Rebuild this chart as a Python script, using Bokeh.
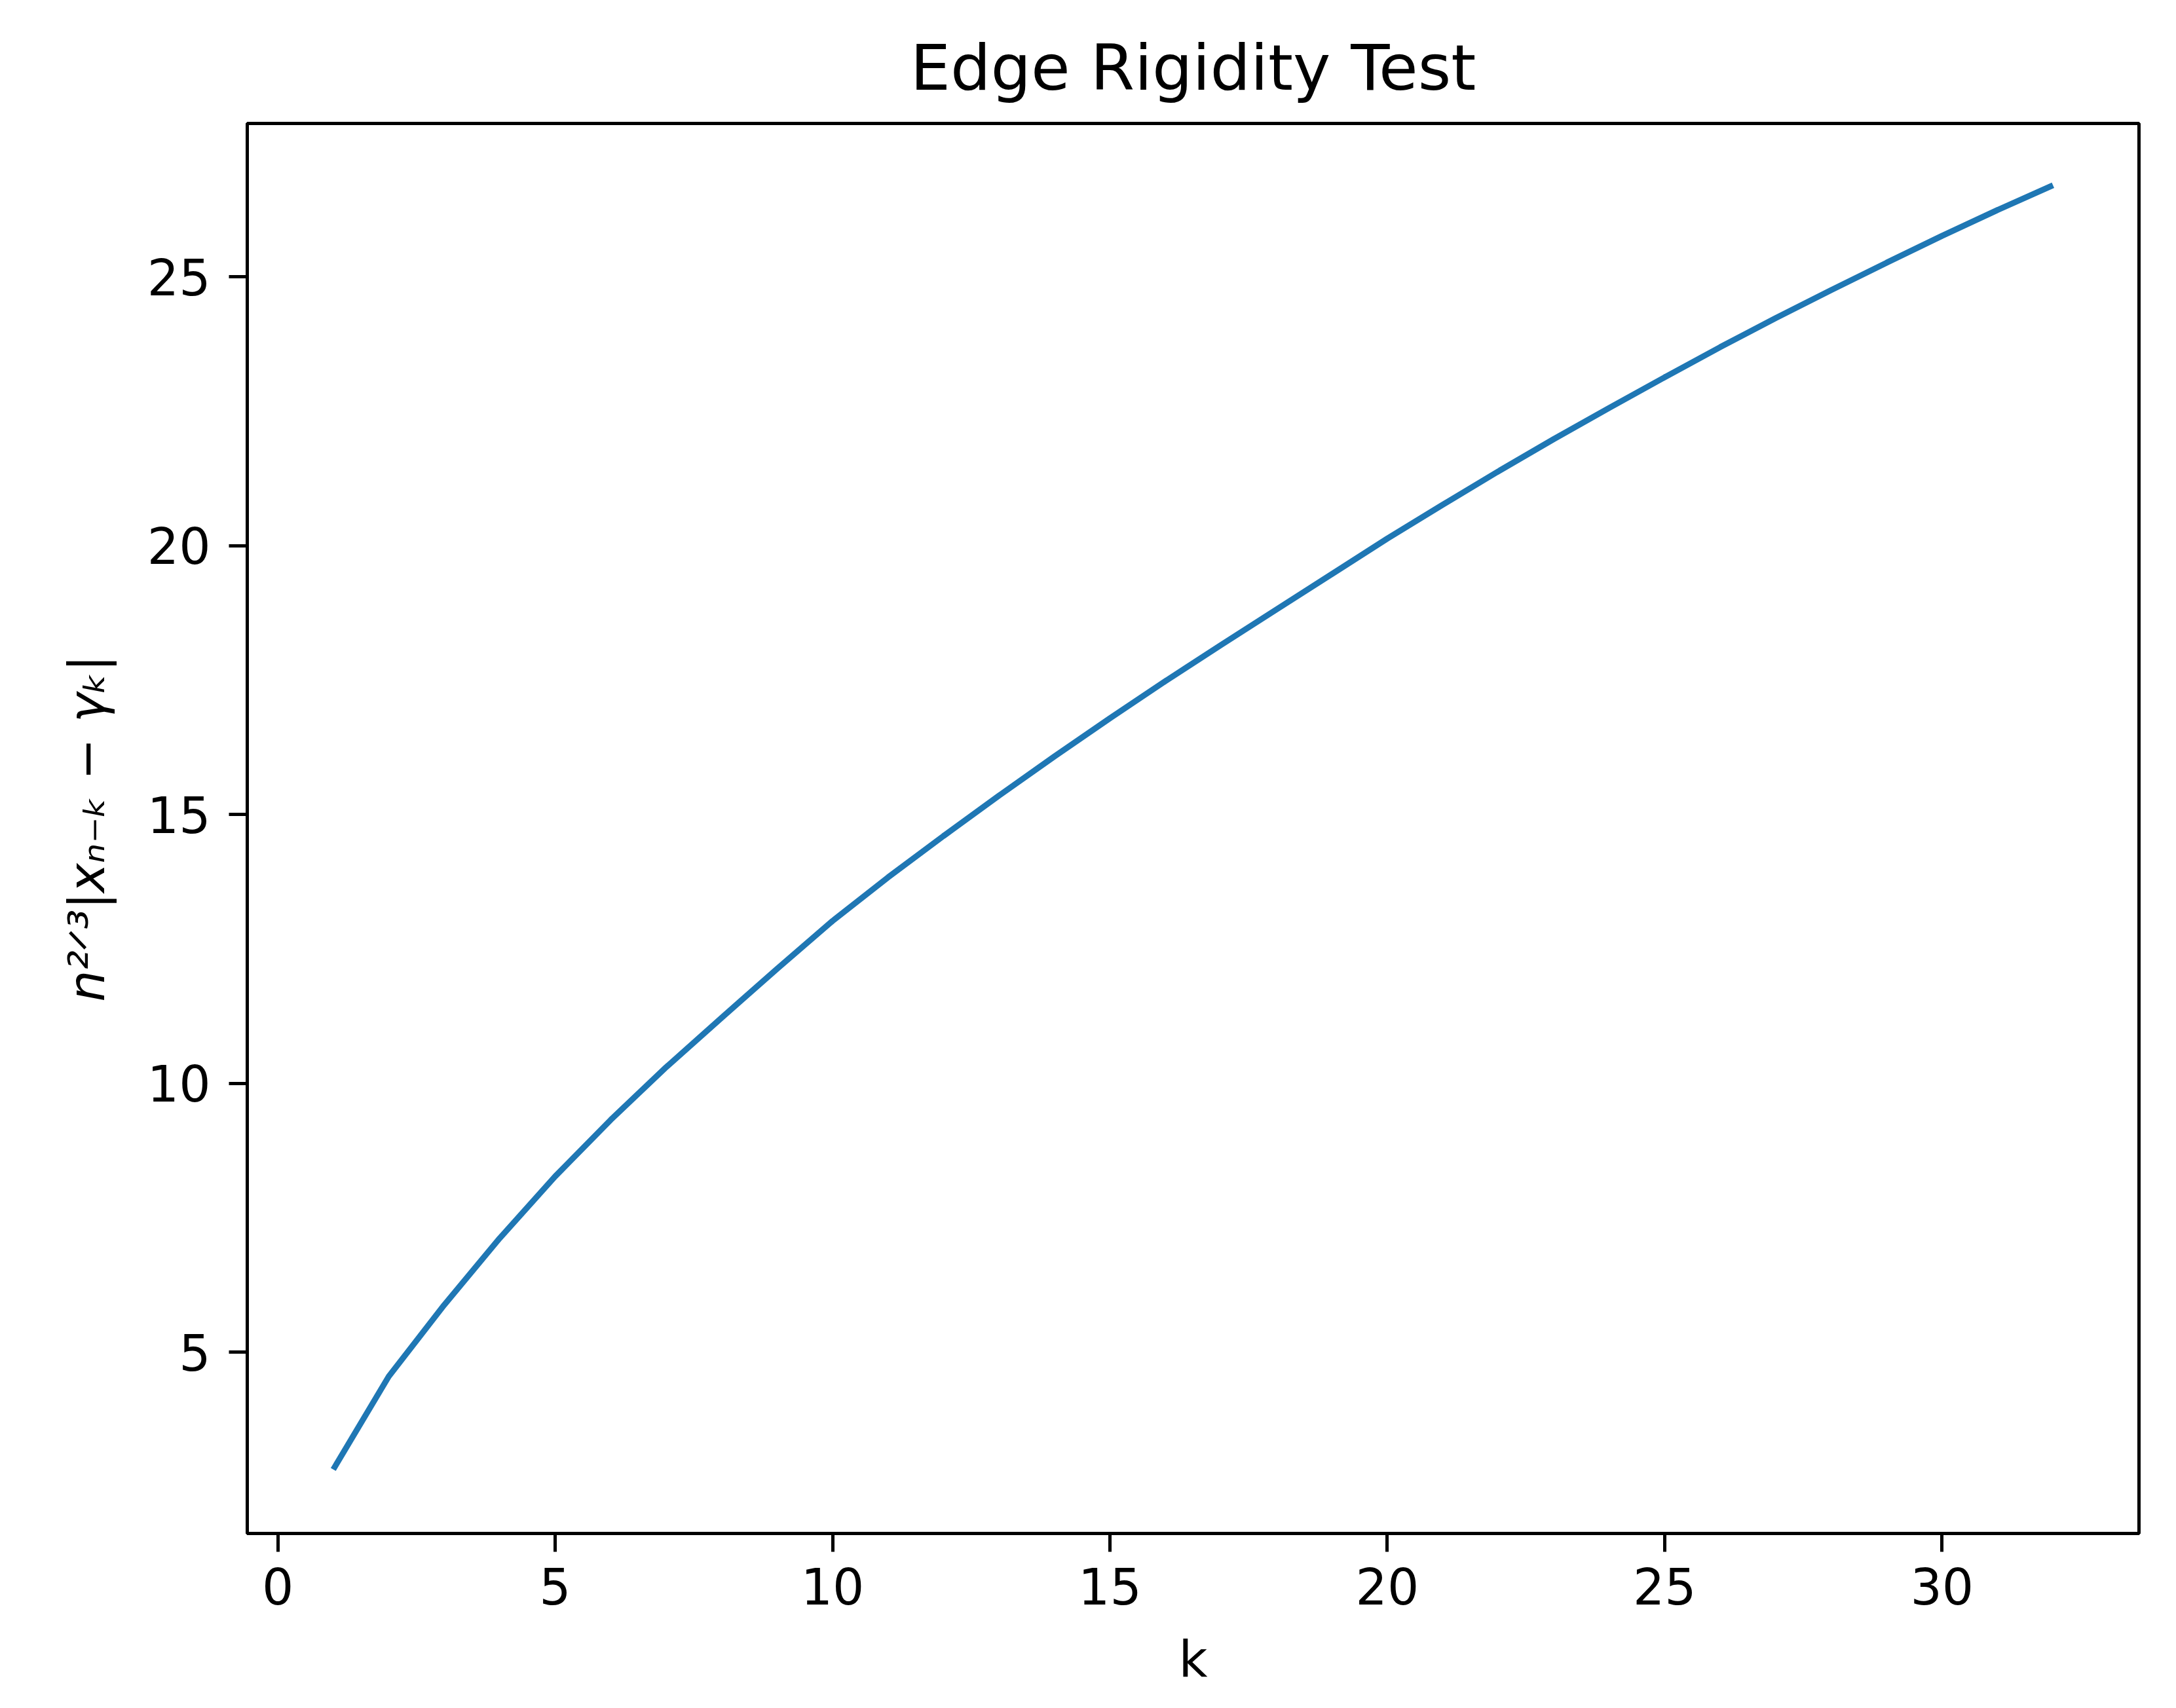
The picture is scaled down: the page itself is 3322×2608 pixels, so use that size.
from bokeh.plotting import figure
from bokeh.models import Range1d, FixedTicker
from bokeh.embed import file_html
from bokeh.resources import INLINE

# data
k_values = list(range(1, 33))
rigidity = [2.82, 4.55, 5.88, 7.12, 8.27, 9.32, 10.30, 11.22, 12.13, 13.02,
            13.83, 14.60, 15.35, 16.08, 16.79, 17.48, 18.15, 18.81, 19.47, 20.13,
            20.76, 21.38, 21.98, 22.56, 23.13, 23.69, 24.23, 24.75, 25.26, 25.76,
            26.24, 26.70]
x_ticks = [0, 5, 10, 15, 20, 25, 30]
y_ticks = [5, 10, 15, 20, 25]

title_text = "Edge Rigidity Test"
x_label = "k"
y_label = "n²ᐟ³|xₙ₋ₖ − γₖ|"

FONT = "DejaVu Sans"

p = figure(width=3306, height=2592,
           x_range=Range1d(-0.55, 33.55), y_range=Range1d(1.63, 27.85),
           output_backend="svg", toolbar_location=None, title=title_text)

p.min_border_left = 377
p.min_border_right = 41
p.min_border_top = 188
p.min_border_bottom = 251

p.background_fill_color = "white"
p.border_fill_color = "white"
p.outline_line_color = "black"
p.outline_line_width = 5

p.title.align = "center"
p.title.text_font = FONT
p.title.text_font_size = "97px"
p.title.text_font_style = "normal"
p.title.text_color = "black"
p.title.standoff = 57

p.xgrid.visible = False
p.ygrid.visible = False

for ax in (p.xaxis[0], p.yaxis[0]):
    ax.axis_line_color = "black"
    ax.axis_line_width = 5
    ax.major_tick_line_color = "black"
    ax.major_tick_line_width = 5
    ax.major_tick_out = 28
    ax.major_tick_in = 0
    ax.minor_tick_line_color = None
    ax.major_label_text_font = FONT
    ax.major_label_text_font_size = "76px"
    ax.major_label_text_color = "black"
    ax.axis_label_text_font = FONT
    ax.axis_label_text_font_size = "76px"
    ax.axis_label_text_color = "black"

p.xaxis[0].ticker = FixedTicker(ticks=x_ticks)
p.yaxis[0].ticker = FixedTicker(ticks=y_ticks)
p.xaxis[0].major_label_standoff = 24
p.yaxis[0].major_label_standoff = 28
p.xaxis[0].axis_label = x_label
p.xaxis[0].axis_label_text_font_style = "normal"
p.xaxis[0].axis_label_standoff = 36
p.yaxis[0].axis_label = y_label
p.yaxis[0].axis_label_text_font_style = "italic"
p.yaxis[0].axis_label_standoff = 45

p.line(k_values, rigidity, line_width=9, line_color="#1f77b4")

open("out.html", "w").write(file_html(p, INLINE))
